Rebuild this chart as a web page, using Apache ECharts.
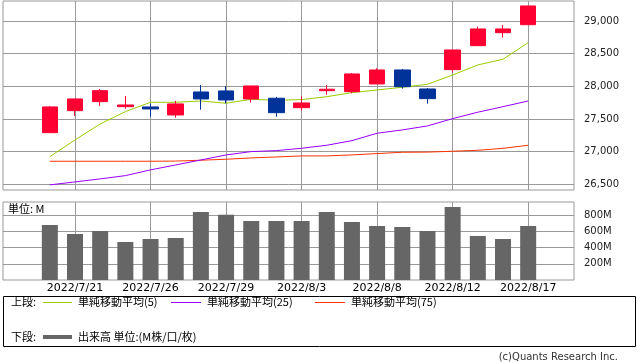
<!DOCTYPE html>
<html><head><meta charset="utf-8">
<script src="https://cdn.jsdelivr.net/npm/echarts@6/dist/echarts.min.js"></script>
<style>html,body{margin:0;padding:0;background:#fff}#c{width:638px;height:362px}</style>
</head><body><div id="c"></div>
<script>
var dates = ['2022/7/20','2022/7/21','2022/7/22','2022/7/25','2022/7/26','2022/7/27','2022/7/28','2022/7/29','2022/8/1','2022/8/2','2022/8/3','2022/8/4','2022/8/5','2022/8/8','2022/8/9','2022/8/10','2022/8/12','2022/8/15','2022/8/16','2022/8/17'];
var openV  = [27290,27627,27765,27688,27684,27561,27913,27929,27806,27817,27673,27933,27918,28036,28250,27959,28255,28622,28821,28943];
var closeV = [27684,27806,27933,27714,27653,27730,27806,27791,28005,27596,27745,27955,28189,28250,27994,27811,28556,28878,28878,29230];
var lowV   = [27290,27546,27699,27658,27535,27520,27642,27740,27749,27535,27627,27872,27893,28036,27964,27734,28209,28622,28744,28943];
var highV  = [27699,27810,27959,27852,27734,27775,28020,28005,28005,27837,27847,28020,28204,28276,28265,27974,28556,28913,28939,29230];
var ma5  = [26923,27179,27423,27612,27755,27755,27775,27740,27801,27786,27796,27841,27903,27944,27985,28031,28173,28327,28414,28668];
var ma25 = [26490,26536,26582,26632,26720,26796,26872,26949,27000,27015,27051,27097,27168,27281,27332,27393,27505,27603,27688,27775];
var ma75 = [26852,26852,26852,26852,26852,26855,26868,26883,26903,26918,26934,26934,26949,26970,26990,26992,27005,27020,27050,27097];
var volume = [677,566,603,468,505,517,837,804,726,726,726,837,714,665,652,603,898,542,505,665];
var dateTickIdx = [1,4,7,10,13,16,19];
var priceTicks = [26500,27000,27500,28000,28500,29000];
var volTicks = [200,400,600,800];
var maNames = ['単純移動平均(5)','単純移動平均(25)','単純移動平均(75)'];
var volName = '出来高 単位:(M株/口/枚)';

var candleData = dates.map(function(d,i){return [i, openV[i], closeV[i], lowV[i], highV[i]];});
function pts(arr){return arr.map(function(v,i){return [i,v];});}

var gridColor = '#999999';
var cjk = "'Noto Sans CJK JP', sans-serif";
var lat = "'DejaVu Sans', sans-serif";

var chart = echarts.init(document.getElementById('c'), null, {renderer:'canvas'});
var xBase = {type:'value', min:-1.86, max:20.82, axisLine:{show:false}, axisTick:{show:false, customValues:dateTickIdx},
  splitLine:{show:true, lineStyle:{color:gridColor, width:1}}};
chart.setOption({
  animation:false,
  backgroundColor:'#ffffff',
  grid:[
    {left:3, top:1, width:571, height:189, show:true, borderColor:gridColor, borderWidth:1, backgroundColor:'transparent'},
    {left:3, top:202, width:571, height:78, show:true, borderColor:gridColor, borderWidth:1, backgroundColor:'transparent'}
  ],
  xAxis:[
    Object.assign({gridIndex:0, axisLabel:{show:false, customValues:dateTickIdx}}, xBase),
    Object.assign({gridIndex:1, axisLabel:{show:true, customValues:dateTickIdx, margin:3, color:'#000', fontFamily:lat, fontSize:11,
      formatter:function(v){return dates[Math.round(v)]||'';}}}, xBase)
  ],
  yAxis:[
    {type:'value', gridIndex:0, position:'right', min:26412, max:29306,
     axisLine:{show:false},
     axisTick:{show:true, length:5, lineStyle:{color:gridColor}, customValues:priceTicks},
     axisLabel:{customValues:priceTicks, margin:10, color:'#222', fontFamily:lat, fontSize:10,
       formatter:function(v){return v.toLocaleString('en-US');}},
     splitLine:{show:true, lineStyle:{color:gridColor, width:1}}},
    {type:'value', gridIndex:1, position:'right', min:0, max:960,
     axisLine:{show:false},
     axisTick:{show:true, length:5, lineStyle:{color:gridColor}, customValues:volTicks},
     axisLabel:{customValues:volTicks, margin:10, color:'#222', fontFamily:lat, fontSize:10,
       formatter:function(v){return v+'M';}},
     splitLine:{show:true, lineStyle:{color:gridColor, width:1}}}
  ],
  series:[
    {type:'line', name:maNames[2], xAxisIndex:0, yAxisIndex:0, data:pts(ma75), symbol:'none', lineStyle:{color:'#ff3300', width:1}, z:3},
    {type:'line', name:maNames[1], xAxisIndex:0, yAxisIndex:0, data:pts(ma25), symbol:'none', lineStyle:{color:'#9900ff', width:1}, z:3},
    {type:'line', name:maNames[0], xAxisIndex:0, yAxisIndex:0, data:pts(ma5), symbol:'none', lineStyle:{color:'#99cc00', width:1}, z:3},
    {type:'candlestick', xAxisIndex:0, yAxisIndex:0, data:candleData, encode:{x:0, y:[1,2,3,4]}, barWidth:16,
     itemStyle:{color:'#ff0033', color0:'#003399', borderColor:'#ff0033', borderColor0:'#003399', borderWidth:1}, z:4},
    {type:'bar', name:volName, xAxisIndex:1, yAxisIndex:1, data:pts(volume), barWidth:16, itemStyle:{color:'#666666'}}
  ],
  graphic:[
    {type:'text', left:8, top:203, style:{text:'単位: M', font:'11px '+cjk, fill:'#000'}},
    {type:'rect', shape:{x:3.5, y:296.5, width:632, height:50}, style:{fill:'none', stroke:'#000', lineWidth:1}},
    {type:'text', x:11, y:302, style:{text:'上段:', font:'11px '+cjk, fill:'#000', textVerticalAlign:'middle'}},
    {type:'line', shape:{x1:43, y1:302.5, x2:72, y2:302.5}, style:{stroke:'#99cc00', lineWidth:1}},
    {type:'text', x:78, y:302, style:{text:maNames[0], font:'11px '+cjk, fill:'#000', textVerticalAlign:'middle'}},
    {type:'line', shape:{x1:171, y1:302.5, x2:201, y2:302.5}, style:{stroke:'#9900ff', lineWidth:1}},
    {type:'text', x:207, y:302, style:{text:maNames[1], font:'11px '+cjk, fill:'#000', textVerticalAlign:'middle'}},
    {type:'line', shape:{x1:315, y1:302.5, x2:345, y2:302.5}, style:{stroke:'#ff3300', lineWidth:1}},
    {type:'text', x:351, y:302, style:{text:maNames[2], font:'11px '+cjk, fill:'#000', textVerticalAlign:'middle'}},
    {type:'text', x:11, y:337, style:{text:'下段:', font:'11px '+cjk, fill:'#000', textVerticalAlign:'middle'}},
    {type:'line', shape:{x1:43, y1:337, x2:72, y2:337}, style:{stroke:'#666666', lineWidth:4}},
    {type:'text', x:78, y:337, style:{text:volName, font:'11px '+cjk, fill:'#000', textVerticalAlign:'middle'}},
    {type:'text', x:618, y:357, style:{text:'(c)Quants Research Inc.', font:'10px '+lat, fill:'#333', textAlign:'right', textVerticalAlign:'middle'}}
  ]
});
</script></body></html>
